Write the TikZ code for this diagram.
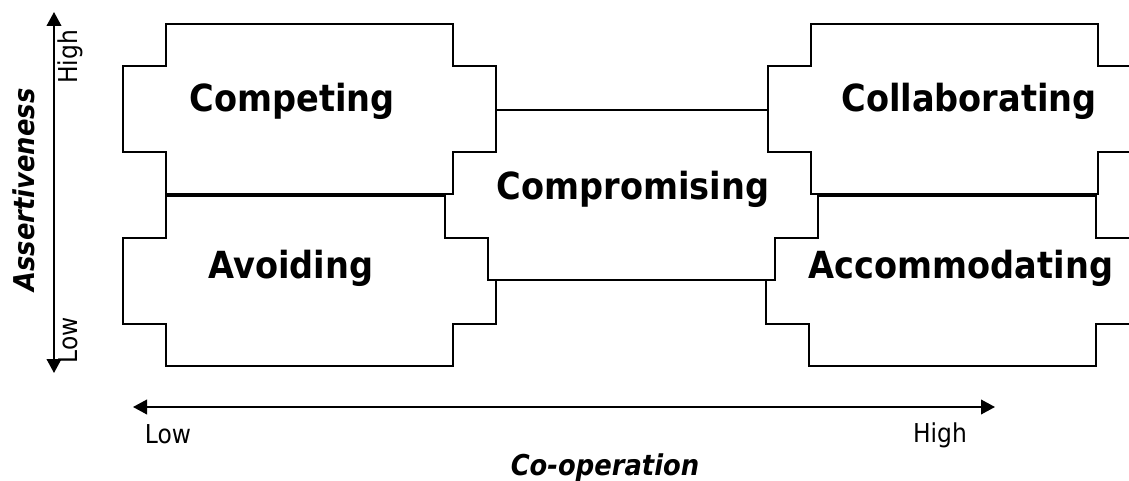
\documentclass[tikz,border=0pt]{standalone}
\usepackage{fontspec}
\setmainfont{DejaVu Sans Condensed}
\usetikzlibrary{arrows.meta}

\begin{document}
\begin{tikzpicture}[x=0.75pt, y=-0.75pt,
    mode/.style={draw, line width=1.3pt, fill=white},
    modelabel/.style={font=\fontsize{28}{33}\selectfont\bfseries, anchor=base},
    axisline/.style={line width=1.3pt, {Triangle[length=10.5pt, width=11pt]}-{Triangle[length=10.5pt, width=11pt]}},
    scalelabel/.style={font=\fontsize{19.5}{23}\selectfont, anchor=base},
    axislabel/.style={font=\fontsize{21.5}{25}\selectfont\bfseries\itshape, anchor=base}]
    \useasboundingbox (0,0) rectangle (1129,481);

    % Stepped boxes, drawn back to front
    \foreach \px/\py in {166/196, 809/196, 488/110, 166/24, 811/24}
        \draw[mode] (\px,\py) -- ++(287,0) -- ++(0,42) -- ++(43,0) -- ++(0,86) -- ++(-43,0) -- ++(0,42)
            -- ++(-287,0) -- ++(0,-42) -- ++(-43,0) -- ++(0,-86) -- ++(43,0) -- cycle;

    % Mode names
    \node[modelabel] (competing) at (292,112) {Competing};
    \node[modelabel] (collaborating) at (969,112) {Collaborating};
    \node[modelabel] (compromising) at (633,200) {Compromising};
    \node[modelabel] (avoiding) at (291,279) {Avoiding};
    \node[modelabel] (accommodating) at (961,279) {Accommodating};

    % Assertiveness axis
    \coordinate (vtop) at (54,12);
    \coordinate (vbot) at (54,373);
    \draw[axisline] (vbot) -- (vtop);
    \node[scalelabel, rotate=90] (vhigh) at (77,57) {High};
    \node[scalelabel, rotate=90] (vlow) at (77,340) {Low};
    \node[axislabel, rotate=90] (assert) at (35,190) {Assertiveness};

    % Co-operation axis
    \coordinate (hleft) at (133,407);
    \coordinate (hright) at (995,407);
    \draw[axisline] (hleft) -- (hright);
    \node[scalelabel] (hlow) at (168,443) {Low};
    \node[scalelabel] (hhigh) at (940,442) {High};
    \node[axislabel] (coop) at (605,475) {Co-operation};
\end{tikzpicture}
\end{document}
